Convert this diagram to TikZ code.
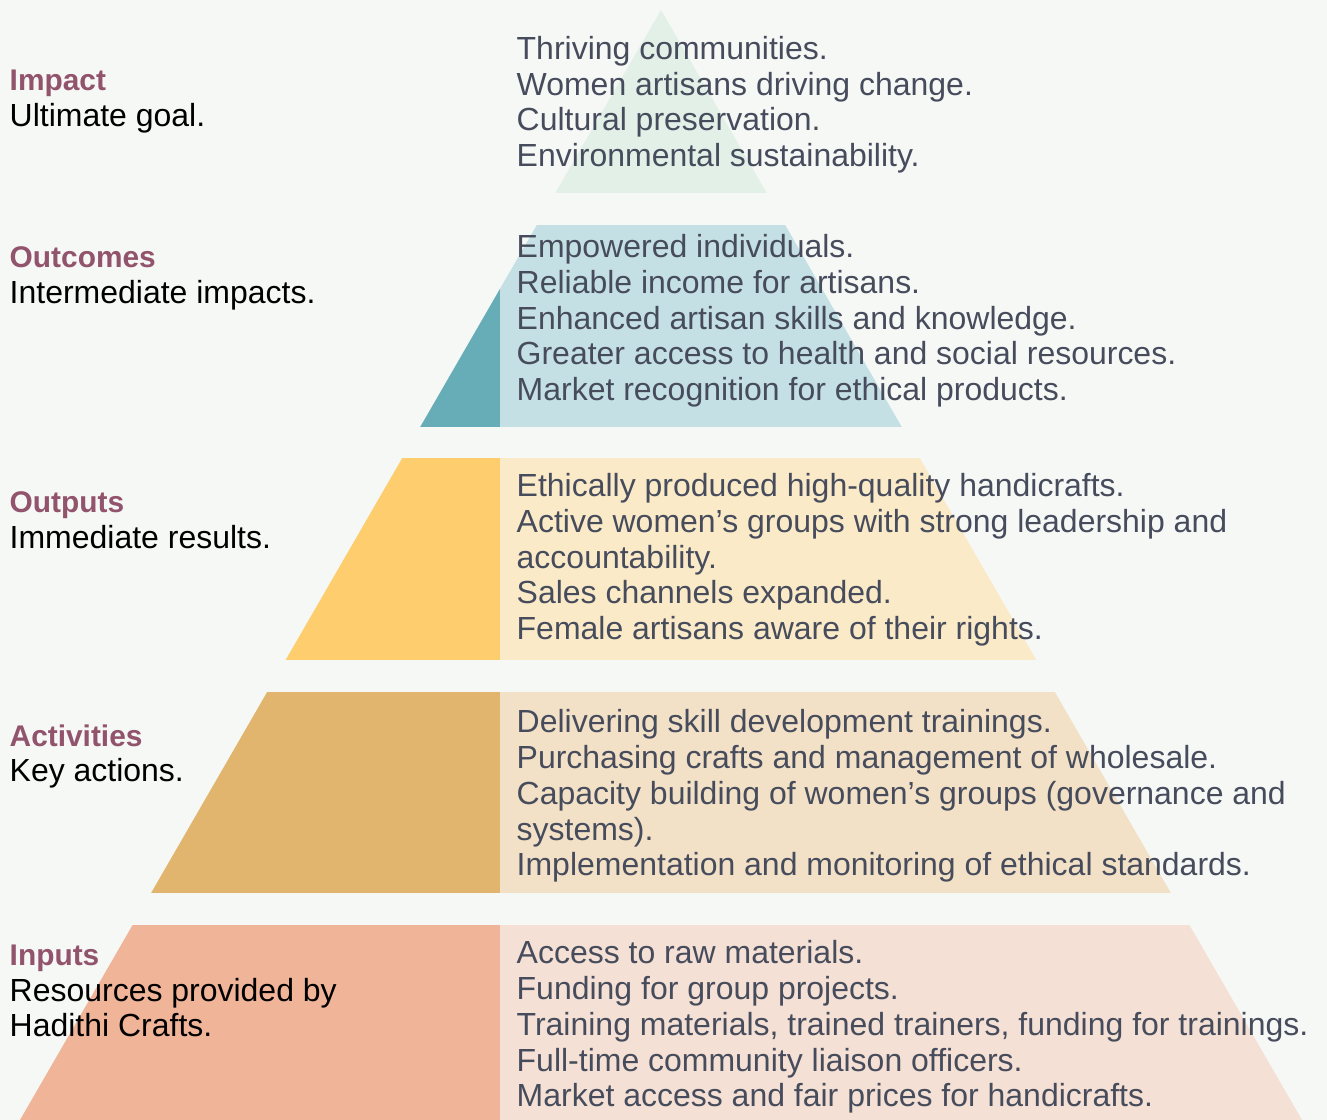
\documentclass[tikz,border=0pt]{standalone}
\usepackage{fontspec}
\setmainfont{Liberation Sans}
\definecolor{paper}{HTML}{F6F8F6}
\definecolor{headcol}{HTML}{92536C}
\definecolor{itemcol}{HTML}{474C5C}
\definecolor{impactL}{HTML}{E2F0E8}
\definecolor{outcomeD}{HTML}{66ADB8}
\definecolor{outcomeL}{HTML}{C4E0E4}
\definecolor{outputD}{HTML}{FECD6E}
\definecolor{outputL}{HTML}{FAEAC8}
\definecolor{activityD}{HTML}{E1B56D}
\definecolor{activityL}{HTML}{F2E1C6}
\definecolor{inputD}{HTML}{F0B498}
\definecolor{inputL}{HTML}{F4E0D4}
\newcommand{\levelhead}[1]{{\fontsize{8.5}{10.24}\selectfont\bfseries\color{headcol}#1}}

\begin{document}
\begin{tikzpicture}[every node/.style={inner sep=0pt,anchor=base west,align=left,font=\fontsize{9.1}{10.24}\selectfont},
  level/.style={text=black},
  items/.style={text=itemcol}]
  \useasboundingbox (0,0) rectangle (13.27,11.20);
  \fill[paper] (0,0) rectangle (13.27,11.20);
  % pyramid bands, cut by the triangle
  \begin{scope}
    \clip (6.61,11.10) -- (0.20,0) -- (13.02,0) -- cycle;
    \foreach \bot/\top/\dk/\lt in {9.27/11.10/impactL/impactL, 6.93/8.95/outcomeD/outcomeL,
        4.60/6.62/outputD/outputL, 2.27/4.28/activityD/activityL, 0/1.95/inputD/inputL}{
      \fill[\dk] (0,\bot) rectangle (5.00,\top);
      \fill[\lt] (5.00,\bot) rectangle (13.27,\top);
    }
  \end{scope}

  % left labels (placed at the baseline of their last line)
  \node[level] (impact) at (0.09,9.93) {\levelhead{Impact}\\Ultimate goal.};
  \node[level] (outcomes) at (0.09,8.16) {\levelhead{Outcomes}\\Intermediate impacts.};
  \node[level] (outputs) at (0.09,5.71) {\levelhead{Outputs}\\Immediate results.};
  \node[level] (activities) at (0.09,3.38) {\levelhead{Activities}\\Key actions.};
  \node[level] (inputs) at (0.09,0.83) {\levelhead{Inputs}\\Resources provided by\\Hadithi Crafts.};

  % right texts
  \node[items] (impacttext) at (5.16,9.53) {Thriving communities.\\Women artisans driving change.\\Cultural preservation.\\Environmental sustainability.};
  \node[items] (outcomestext) at (5.16,7.19) {Empowered individuals.\\Reliable income for artisans.\\Enhanced artisan skills and knowledge.\\Greater access to health and social resources.\\Market recognition for ethical products.};
  \node[items] (outputstext) at (5.16,4.80) {Ethically produced high-quality handicrafts.\\Active women’s groups with strong leadership and\\accountability.\\Sales channels expanded.\\Female artisans aware of their rights.};
  \node[items] (activitiestext) at (5.16,2.44) {Delivering skill development trainings.\\Purchasing crafts and management of wholesale.\\Capacity building of women’s groups (governance and\\systems).\\Implementation and monitoring of ethical standards.};
  \node[items] (inputstext) at (5.16,0.13) {Access to raw materials.\\Funding for group projects.\\Training materials, trained trainers, funding for trainings.\\Full-time community liaison officers.\\Market access and fair prices for handicrafts.};
\end{tikzpicture}
\end{document}
